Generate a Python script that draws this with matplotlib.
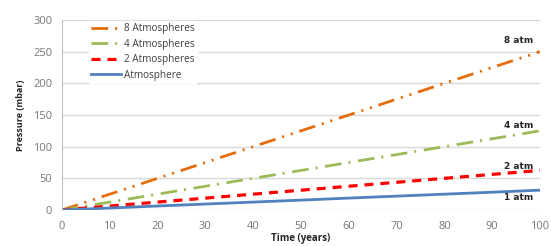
import matplotlib
matplotlib.use("Agg")
import matplotlib.pyplot as plt
import numpy as np

years = [0, 10, 20, 30, 40, 50, 60, 70, 80, 90, 100]
atm8 = [0, 25, 50, 75, 100, 125, 150, 175, 200, 225, 250]
atm4 = [0, 12.5, 25, 37.5, 50, 62.5, 75, 87.5, 100, 112.5, 125]
atm2 = [0, 6.25, 12.5, 18.75, 25, 31.25, 37.5, 43.75, 50, 56.25, 62.5]
atm1 = [0, 3.1, 6.3, 9.4, 12.5, 15.6, 18.8, 21.9, 25, 28.1, 31.3]
series_names = ["8 Atmospheres", "4 Atmospheres", "2 Atmospheres", "Atmosphere"]
end_labels = ["8 atm", "4 atm", "2 atm", "1 atm"]
end_label_y = [267, 134, 69, 20]

plt.rcParams['font.family'] = ['Open Sans', 'DejaVu Sans']
plt.rcParams['lines.scale_dashes'] = False

fig = plt.figure(figsize=(5.51, 2.46), dpi=100)
ax = fig.add_axes([62/551, 1-210/246, (540-62)/551, 190/246])

ax.set_xlim(0, 100)
ax.set_ylim(0, 300)
ax.set_xticks(range(0, 101, 10))
ax.set_yticks(range(0, 301, 50))
ax.grid(axis='y', color='#d9d9d9', linewidth=1.0)
ax.set_axisbelow(True)
for s in ['top', 'right', 'bottom']:
    ax.spines[s].set_visible(False)
ax.spines['left'].set_color('#bfbfbf')
ax.tick_params(length=0, labelsize=8, colors='#767676')
ax.tick_params(axis='x', pad=8)
ax.tick_params(axis='y', pad=7)

lw = 2.0
l8, = ax.plot(years, atm8, color='#e46c0a', linewidth=lw,
              dashes=(12, 5, 1.5, 5, 1.5, 5), label=series_names[0])
l4, = ax.plot(years, atm4, color='#9bbb59', linewidth=lw,
              dashes=(12, 5, 1.5, 5.5), label=series_names[1])
l2, = ax.plot(years, atm2, color='#ff0000', linewidth=lw + 0.3,
              dashes=(6.5, 5), label=series_names[2])
l1, = ax.plot(years, atm1, color='#4f81bd', linewidth=lw,
              label=series_names[3])

for lab, yv in zip(end_labels, end_label_y):
    ax.text(95.6, yv, lab, fontsize=6.5, fontweight='bold', ha='center',
            va='center', color='#262626', family='Liberation Sans Narrow')

leg = ax.legend(loc='upper left', bbox_to_anchor=(0.045, 1.02), fontsize=7.2,
                frameon=True, framealpha=1, edgecolor='white',
                handlelength=3.0, handletextpad=0.35, labelspacing=0.45,
                borderpad=0.2)
for t in leg.get_texts():
    t.set_color('#404040')

ax.set_ylabel('Pressure (mbar)', fontsize=6.5, fontweight='bold', color='#262626', labelpad=6)
ax.set_xlabel('Time (years)', fontsize=7, fontweight='bold', color='#262626', labelpad=1)

fig.savefig('out.png', dpi=100)
